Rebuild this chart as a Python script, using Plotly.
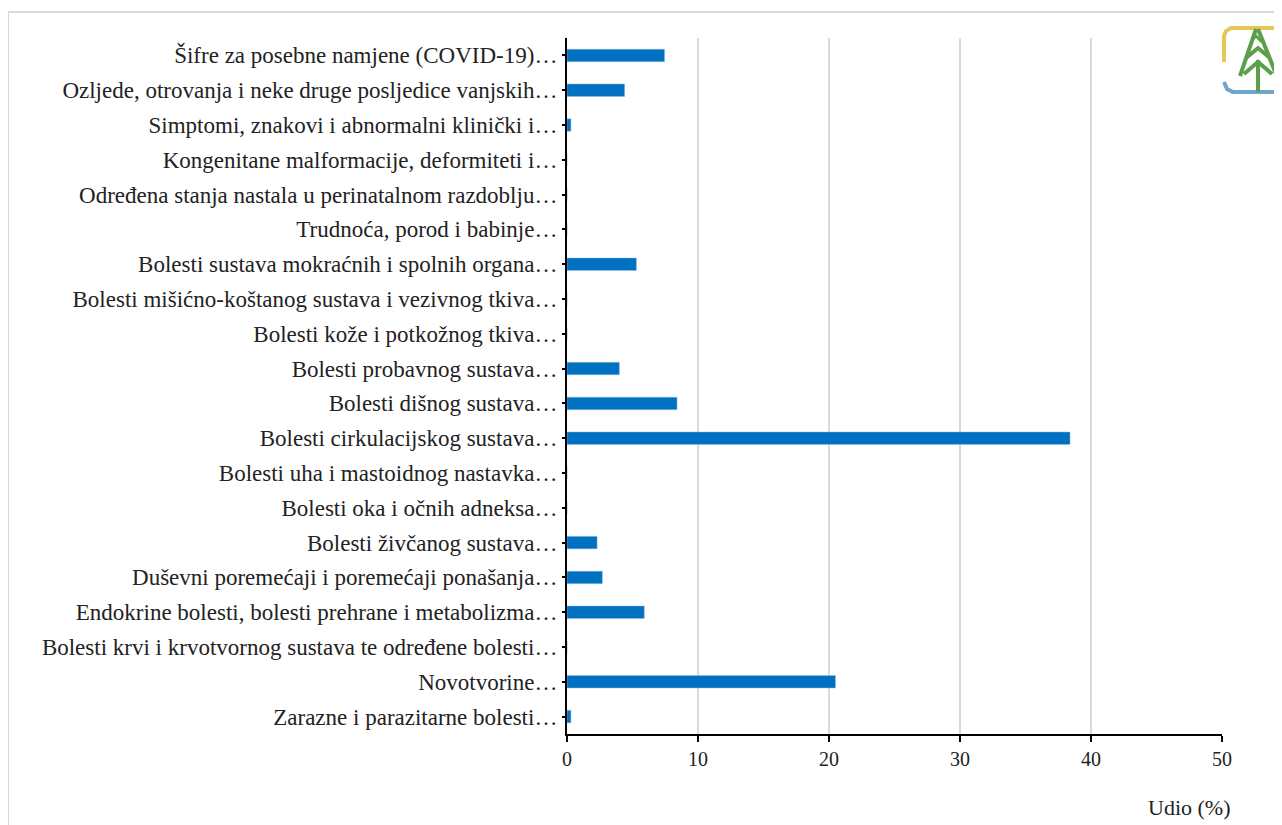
import plotly.graph_objects as go

# podaci (odozdo prema gore)
kategorije = [
    "Zarazne i parazitarne bolesti…",
    "Novotvorine…",
    "Bolesti krvi i krvotvornog sustava te određene bolesti…",
    "Endokrine bolesti, bolesti prehrane i metabolizma…",
    "Duševni poremećaji i poremećaji ponašanja…",
    "Bolesti živčanog sustava…",
    "Bolesti oka i očnih adneksa…",
    "Bolesti uha i mastoidnog nastavka…",
    "Bolesti cirkulacijskog sustava…",
    "Bolesti dišnog sustava…",
    "Bolesti probavnog sustava…",
    "Bolesti kože i potkožnog tkiva…",
    "Bolesti mišićno-koštanog sustava i vezivnog tkiva…",
    "Bolesti sustava mokraćnih i spolnih organa…",
    "Trudnoća, porod i babinje…",
    "Određena stanja nastala u perinatalnom razdoblju…",
    "Kongenitane malformacije, deformiteti i…",
    "Simptomi, znakovi i abnormalni klinički i…",
    "Ozljede, otrovanja i neke druge posljedice vanjskih…",
    "Šifre za posebne namjene (COVID-19)…",
]
udio = [0.3, 20.5, 0.0, 5.9, 2.7, 2.3, 0.0, 0.0, 38.4, 8.4,
        4.0, 0.0, 0.0, 5.3, 0.0, 0.0, 0.0, 0.3, 4.4, 7.45]
x_tickovi = [0, 10, 20, 30, 40, 50]

# stranica ima marginu od 8 px, pa je graf pomaknut
OFF = 8
W, H = 1282 - OFF, 825 - OFF
L, R, T, B = 567 - OFF, 60, 38 - OFF, 91
pw, ph = W - L - R, H - T - B


def px(x):
    return (x - OFF - L) / pw


def py(y):
    return 1 - (y - OFF - T) / ph


fig = go.Figure()
fig.add_trace(go.Bar(
    y=kategorije, x=udio, orientation="h",
    marker=dict(color="#0070C0", line=dict(color="#9dc3e6", width=0.5)),
    width=0.36,
))

shapes = []
# okvir
shapes.append(dict(type="rect", xref="paper", yref="paper",
                   x0=px(8), x1=px(1400), y0=py(900), y1=py(12),
                   line=dict(color="#d9d9d9", width=2), layer="below"))


def path(points, color, w):
    d = "M " + " L ".join(f"{px(a)},{py(b)}" for a, b in points)
    return dict(type="path", xref="paper", yref="paper", path=d,
                line=dict(color=color, width=w))


# logo (približno)
shapes.append(path([(1224, 62), (1224, 36), (1226, 31), (1231, 28), (1282, 28)], "#e6c85a", 4))
shapes.append(path([(1224, 82), (1227, 89), (1233, 92), (1282, 92)], "#6fa6d0", 4))
shapes.append(path([(1256, 29), (1240, 76)], "#5aa04a", 4))
shapes.append(path([(1258, 29), (1276, 74)], "#5aa04a", 4))
shapes.append(path([(1246, 58), (1258, 48), (1270, 58)], "#5aa04a", 4))
shapes.append(path([(1244, 74), (1258, 62), (1272, 74)], "#5aa04a", 4))
shapes.append(path([(1258, 60), (1258, 92)], "#5aa04a", 4))
shapes.append(path([(1252, 40), (1256, 36), (1262, 42)], "#5aa04a", 3))

fig.update_layout(
    width=W, height=H,
    margin=dict(l=L, r=R, t=T, b=B),
    plot_bgcolor="white", paper_bgcolor="white",
    font=dict(family="Liberation Serif, serif", size=23, color="#222222"),
    showlegend=False,
    bargap=0.6,
    shapes=shapes,
    xaxis=dict(
        range=[0, 50], tickvals=x_tickovi, showgrid=True,
        gridcolor="#d9d9d9", gridwidth=2,
        showline=True, linecolor="black", linewidth=2,
        ticks="outside", ticklen=6, tickwidth=1.5, tickcolor="black",
        zeroline=False, fixedrange=True,
        tickfont=dict(size=20),
    ),
    yaxis=dict(
        showline=True, linecolor="black", linewidth=2,
        ticks="outside", ticklen=3, tickwidth=1.5, tickcolor="black",
        showgrid=False, ticklabelstandoff=0,
    ),
    annotations=[dict(
        text="Udio (%)", xref="paper", yref="paper",
        x=px(1232), y=py(808), xanchor="right", yanchor="middle",
        showarrow=False, font=dict(size=22, color="#222222"),
    )],
)

fig.write_html("out.html")
